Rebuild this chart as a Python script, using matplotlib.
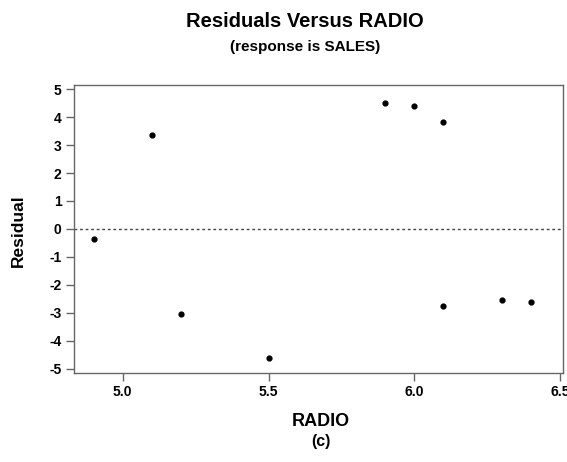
import matplotlib
matplotlib.use("Agg")
import matplotlib.pyplot as plt

# residuals vs radio
radio = [4.9, 5.1, 5.2, 5.5, 5.9, 6.0, 6.1, 6.1, 6.3, 6.4]
residual = [-0.37, 3.35, -3.03, -4.62, 4.52, 4.41, 3.82, -2.77, -2.53, -2.60]
x_ticks = [5.0, 5.5, 6.0, 6.5]
y_ticks = list(range(-5, 6))

plt.rcParams['font.family'] = ['Liberation Sans', 'DejaVu Sans']

fig = plt.figure(figsize=(5.67, 4.62), dpi=100)
ax = fig.add_axes([0.1305, 0.193, 0.8625, 0.623])

ax.scatter(radio, residual, s=12, color='black', zorder=3)
ax.axhline(0, color='#444444', linestyle=(0, (2, 2)), linewidth=1)

ax.set_xlim(4.833, 6.51)
ax.set_ylim(-5.15, 5.15)
ax.set_xticks(x_ticks)
ax.set_xticklabels(['%.1f' % t for t in x_ticks])
ax.set_yticks(y_ticks)
ax.set_yticklabels([str(t) for t in y_ticks])  # plain hyphen, not unicode minus

for s in ax.spines.values():
    s.set_color('#666666')
    s.set_linewidth(1)
ax.tick_params(axis='both', color='#666666', length=6, width=1,
               labelsize=10, pad=3)
for lab in ax.get_xticklabels() + ax.get_yticklabels():
    lab.set_fontweight('bold')

# labels / titles
fig.text(0.032, 0.500, 'Residual', rotation=90, ha='center', va='center',
         fontsize=12.5, fontweight='bold')
fig.text(0.566, 0.087, 'RADIO', ha='center', va='center',
         fontsize=13, fontweight='bold')
fig.text(0.566, 0.044, '(c)', ha='center', va='center',
         fontsize=11.5, fontweight='bold')
fig.text(0.538, 0.953, 'Residuals Versus RADIO', ha='center', va='center',
         fontsize=14.5, fontweight='bold')
fig.text(0.538, 0.898, '(response is SALES)', ha='center', va='center',
         fontsize=11, fontweight='bold')

fig.savefig('out.png', dpi=100)
